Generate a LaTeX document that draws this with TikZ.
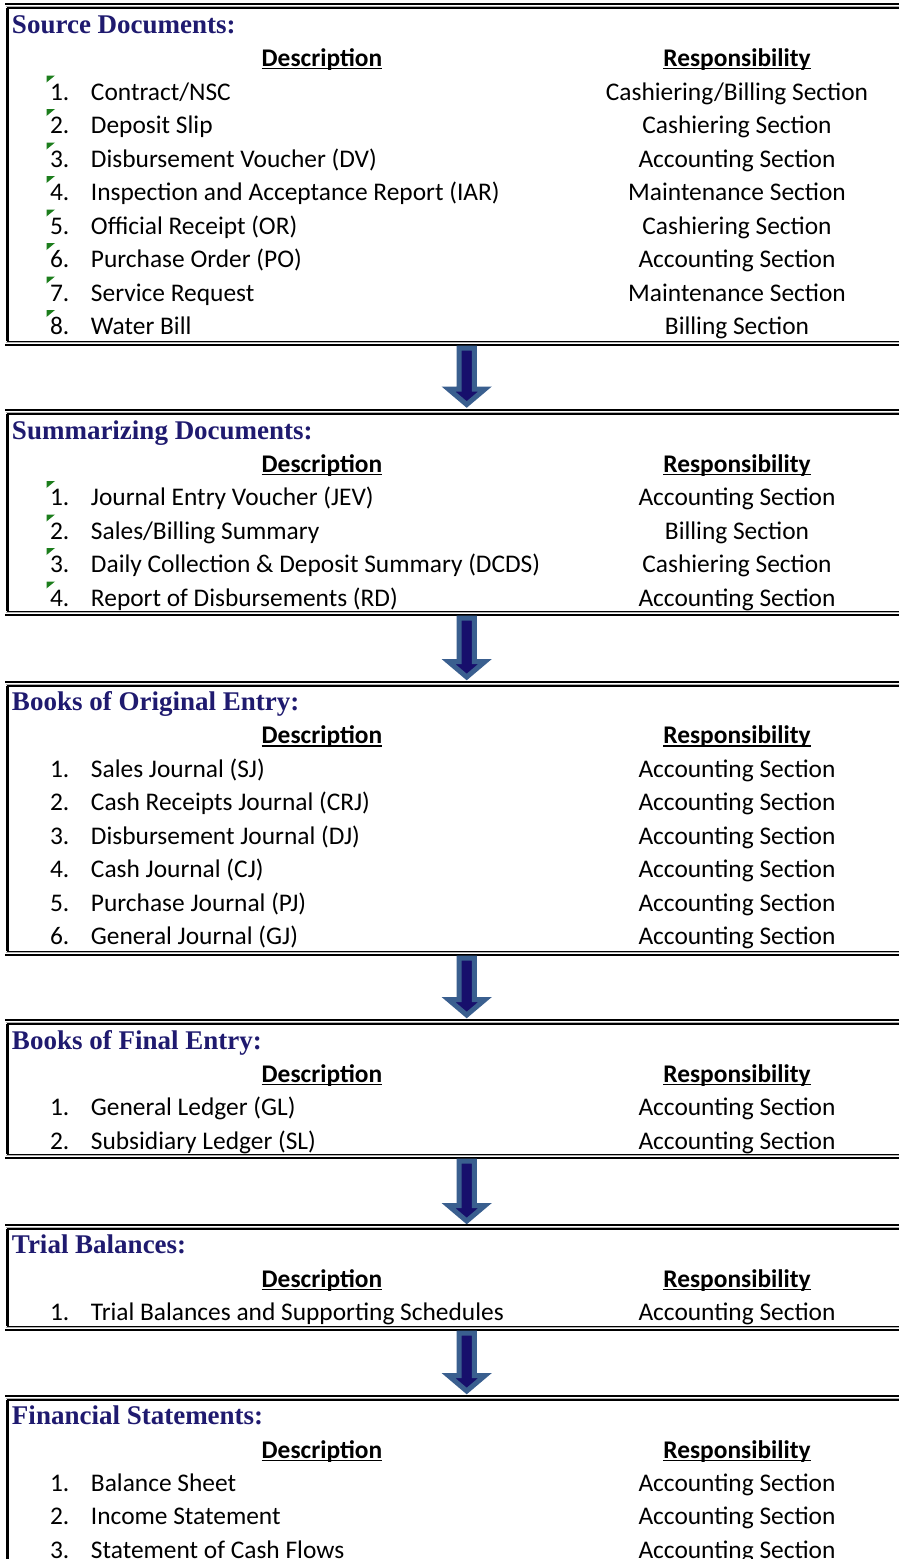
\documentclass[tikz,border=0pt]{standalone}
\usepackage{fontspec}
\setmainfont{Carlito}
\newfontfamily\titlefont{Liberation Serif}
\usepackage{tikz}
\definecolor{acnavy}{HTML}{1F1A6F}
\definecolor{acfill}{HTML}{170F6C}
\definecolor{acsteel}{HTML}{3A5F8F}
\definecolor{acgreen}{HTML}{1C7D1C}

% underlined column heading, rule just under the baseline
\newcommand{\ulhead}[1]{\setbox0\hbox{#1}\rlap{\rule[-3.3pt]{\wd0}{1.5pt}}\box0}
% number and description share one node
\newcommand{\numbered}[2]{\makebox[41pt][l]{#1}#2}
% frame of one section: double rules top and bottom, rule on the left
\newcommand{\sectionframe}[2]{%
  \draw[line width=2.6pt] (5,#1) -- (900,#1);
  \draw[line width=1pt,black!30] (6,#1+2.4) -- (900,#1+2.4);
  \draw[line width=1.3pt] (6.5,#1+4) -- (900,#1+4);
  \draw[line width=2.2pt] (7.5,#1+4) -- (7.5,#2-3.8);
  \draw[line width=1.3pt] (6.5,#2-3.8) -- (900,#2-3.8);
  \draw[line width=1pt,black!30] (6,#2-2.2) -- (900,#2-2.2);
  \draw[line width=2.6pt] (5,#2) -- (900,#2);}
% block arrow between two sections
\newcommand{\flowarrow}[2]{%
  \filldraw[fill=acfill,draw=acsteel,line width=5pt,line join=miter]
    (459,#1) -- (474.4,#1) -- (474.4,#2-15.5) -- (485,#2-15.5) -- (466.7,#2)
    -- (448.4,#2-15.5) -- (459,#2-15.5) -- cycle;}

\begin{document}
\begin{tikzpicture}[x=1pt,y=-1pt,
    every node/.style={inner sep=0pt,outer sep=0pt},
    sectitle/.style={anchor=base west,acnavy,
      font=\fontsize{27}{30}\selectfont\titlefont\bfseries},
    colhead/.style={anchor=base,font=\fontsize{25.4}{30}\selectfont\bfseries},
    entry/.style={anchor=base west,font=\fontsize{25.4}{30}\selectfont},
    resp/.style={anchor=base,font=\fontsize{25.4}{30}\selectfont},
    errmark/.pic={\fill[acgreen] (0,0) -- (8.5,0) -- (0,7) -- cycle;}]

  \useasboundingbox[fill=white] (0,0) rectangle (899,1559);

  % --- source documents
  \sectionframe{4}{345}
  \node[sectitle] (src-title) at (12,33) {Source Documents:};
  \node[colhead] (src-desc) at (322,66) {\ulhead{Description}};
  \node[colhead] (src-resp) at (737,66) {\ulhead{Responsibility}};
  \node[entry] (src-1) at (50,100) {\numbered{1.}{Contract/NSC}};
  \node[resp] (src-1r) at (737,100) {Cashiering/Billing Section};
  \node[entry] (src-2) at (50,133.5) {\numbered{2.}{Deposit Slip}};
  \node[resp] (src-2r) at (737,133.5) {Cashiering Section};
  \node[entry] (src-3) at (50,167) {\numbered{3.}{Disbursement Voucher (DV)}};
  \node[resp] (src-3r) at (737,167) {Accounting Section};
  \node[entry] (src-4) at (50,200.5) {\numbered{4.}{Inspection and Acceptance Report (IAR)}};
  \node[resp] (src-4r) at (737,200.5) {Maintenance Section};
  \node[entry] (src-5) at (50,234) {\numbered{5.}{Official Receipt (OR)}};
  \node[resp] (src-5r) at (737,234) {Cashiering Section};
  \node[entry] (src-6) at (50,267.5) {\numbered{6.}{Purchase Order (PO)}};
  \node[resp] (src-6r) at (737,267.5) {Accounting Section};
  \node[entry] (src-7) at (50,301) {\numbered{7.}{Service Request}};
  \node[resp] (src-7r) at (737,301) {Maintenance Section};
  \node[entry] (src-8) at (50,334.5) {\numbered{8.}{Water Bill}};
  \node[resp] (src-8r) at (737,334.5) {Billing Section};
  \pic at (46.5,75.5) {errmark};
  \pic at (46.5,109) {errmark};
  \pic at (46.5,142.5) {errmark};
  \pic at (46.5,176) {errmark};
  \pic at (46.5,209.5) {errmark};
  \pic at (46.5,243) {errmark};
  \pic at (46.5,276.5) {errmark};
  \pic at (46.5,310) {errmark};

  \flowarrow{348}{404.5}

  % --- summarizing documents
  \sectionframe{410}{615}
  \node[sectitle] (sum-title) at (12,439) {Summarizing Documents:};
  \node[colhead] (sum-desc) at (322,472) {\ulhead{Description}};
  \node[colhead] (sum-resp) at (737,472) {\ulhead{Responsibility}};
  \node[entry] (sum-1) at (50,505.5) {\numbered{1.}{Journal Entry Voucher (JEV)}};
  \node[resp] (sum-1r) at (737,505.5) {Accounting Section};
  \node[entry] (sum-2) at (50,539) {\numbered{2.}{Sales/Billing Summary}};
  \node[resp] (sum-2r) at (737,539) {Billing Section};
  \node[entry] (sum-3) at (50,572.5) {\numbered{3.}{Daily Collection \& Deposit Summary (DCDS)}};
  \node[resp] (sum-3r) at (737,572.5) {Cashiering Section};
  \node[entry] (sum-4) at (50,606) {\numbered{4.}{Report of Disbursements (RD)}};
  \node[resp] (sum-4r) at (737,606) {Accounting Section};
  \pic at (46.5,481) {errmark};
  \pic at (46.5,514.5) {errmark};
  \pic at (46.5,548) {errmark};
  \pic at (46.5,581.5) {errmark};

  \flowarrow{618}{677}

  % --- books of original entry
  \sectionframe{682}{955}
  \node[sectitle] (boe-title) at (12,710.5) {Books of Original Entry:};
  \node[colhead] (boe-desc) at (322,743.5) {\ulhead{Description}};
  \node[colhead] (boe-resp) at (737,743.5) {\ulhead{Responsibility}};
  \node[entry] (boe-1) at (50,777) {\numbered{1.}{Sales Journal (SJ)}};
  \node[resp] (boe-1r) at (737,777) {Accounting Section};
  \node[entry] (boe-2) at (50,810.5) {\numbered{2.}{Cash Receipts Journal (CRJ)}};
  \node[resp] (boe-2r) at (737,810.5) {Accounting Section};
  \node[entry] (boe-3) at (50,844) {\numbered{3.}{Disbursement Journal (DJ)}};
  \node[resp] (boe-3r) at (737,844) {Accounting Section};
  \node[entry] (boe-4) at (50,877.5) {\numbered{4.}{Cash Journal (CJ)}};
  \node[resp] (boe-4r) at (737,877.5) {Accounting Section};
  \node[entry] (boe-5) at (50,911) {\numbered{5.}{Purchase Journal (PJ)}};
  \node[resp] (boe-5r) at (737,911) {Accounting Section};
  \node[entry] (boe-6) at (50,944.5) {\numbered{6.}{General Journal (GJ)}};
  \node[resp] (boe-6r) at (737,944.5) {Accounting Section};

  \flowarrow{958}{1015}

  % --- books of final entry
  \sectionframe{1020}{1158}
  \node[sectitle] (bfe-title) at (12,1049) {Books of Final Entry:};
  \node[colhead] (bfe-desc) at (322,1082) {\ulhead{Description}};
  \node[colhead] (bfe-resp) at (737,1082) {\ulhead{Responsibility}};
  \node[entry] (bfe-1) at (50,1115.5) {\numbered{1.}{General Ledger (GL)}};
  \node[resp] (bfe-1r) at (737,1115.5) {Accounting Section};
  \node[entry] (bfe-2) at (50,1149) {\numbered{2.}{Subsidiary Ledger (SL)}};
  \node[resp] (bfe-2r) at (737,1149) {Accounting Section};

  \flowarrow{1161}{1221}

  % --- trial balances
  \sectionframe{1225}{1330}
  \node[sectitle] (tb-title) at (12,1253) {Trial Balances:};
  \node[colhead] (tb-desc) at (322,1287) {\ulhead{Description}};
  \node[colhead] (tb-resp) at (737,1287) {\ulhead{Responsibility}};
  \node[entry] (tb-1) at (50,1320) {\numbered{1.}{Trial Balances and Supporting Schedules}};
  \node[resp] (tb-1r) at (737,1320) {Accounting Section};

  \flowarrow{1333}{1391}

  % --- financial statements, cut by the page edge
  \sectionframe{1396}{1620}
  \node[sectitle] (fs-title) at (12,1424) {Financial Statements:};
  \node[colhead] (fs-desc) at (322,1458) {\ulhead{Description}};
  \node[colhead] (fs-resp) at (737,1458) {\ulhead{Responsibility}};
  \node[entry] (fs-1) at (50,1491) {\numbered{1.}{Balance Sheet}};
  \node[resp] (fs-1r) at (737,1491) {Accounting Section};
  \node[entry] (fs-2) at (50,1524.5) {\numbered{2.}{Income Statement}};
  \node[resp] (fs-2r) at (737,1524.5) {Accounting Section};
  \node[entry] (fs-3) at (50,1558) {\numbered{3.}{Statement of Cash Flows}};
  \node[resp] (fs-3r) at (737,1558) {Accounting Section};
\end{tikzpicture}
\end{document}
